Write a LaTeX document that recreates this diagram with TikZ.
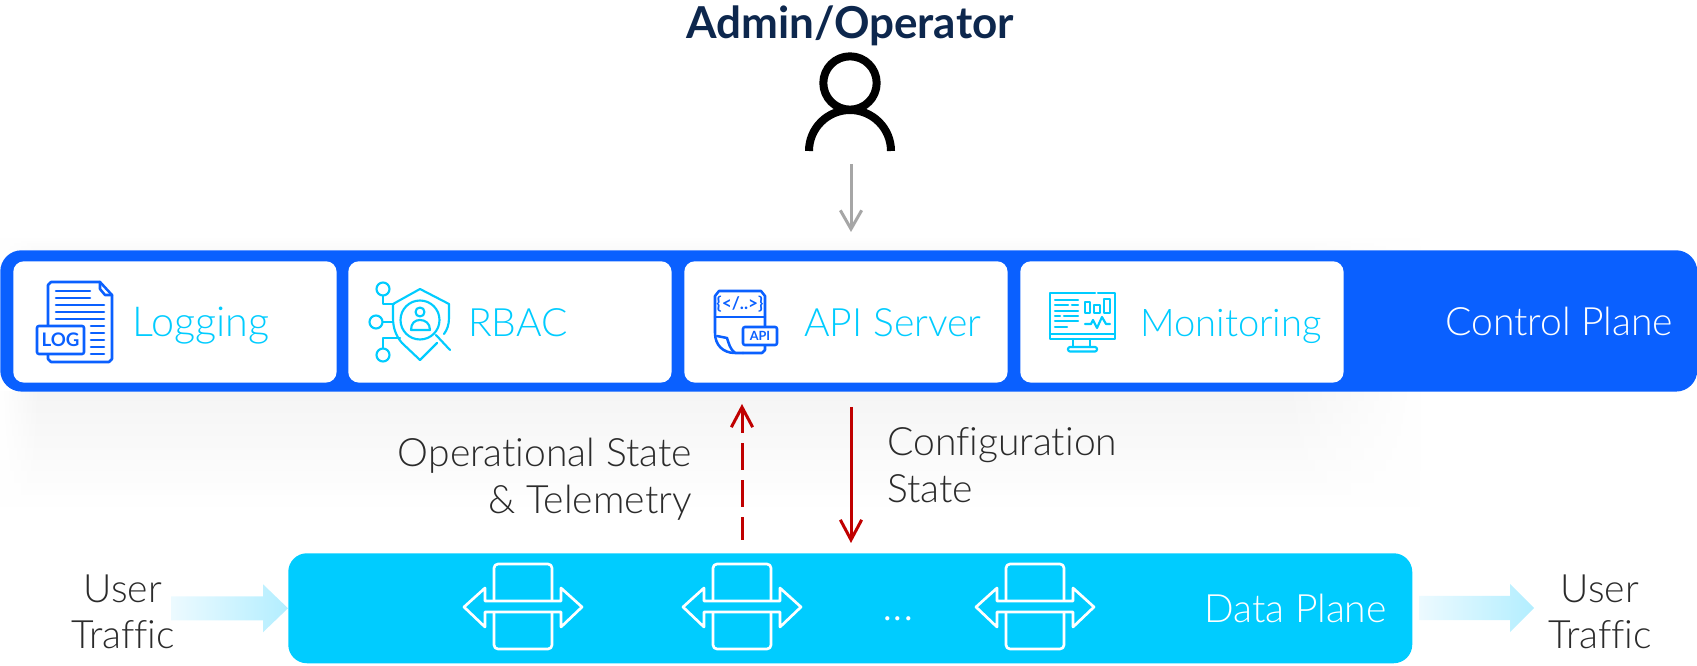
\documentclass[tikz,border=0pt]{standalone}
\usepackage{fontspec}
\usetikzlibrary{arrows.meta,fadings}
\setmainfont{Lato}
\newfontfamily\lightf[Ligatures=NoCommon]{Lato Light}
\definecolor{cpblue}{HTML}{0A60FF}
\definecolor{dpcyan}{HTML}{00CCFF}
\definecolor{navy}{HTML}{0D274D}
\definecolor{ink}{HTML}{2B2B2B}
\definecolor{redarrow}{HTML}{C00000}
\definecolor{greyarrow}{HTML}{A6A6A6}
\definecolor{flowstart}{HTML}{ECFAFF}
\definecolor{flowmid}{HTML}{99E6FF}
\definecolor{flowend}{HTML}{B3EEFF}
\tikzset{
  cardbox/.style={fill=white,rounded corners=8pt,anchor=north west,minimum width=242.5pt,minimum height=91pt,inner sep=0pt},
  lbl/.style={inner sep=0pt,font=\lightf\fontsize{29.3}{34.9}\selectfont},
  cardlbl/.style={lbl,text=dpcyan,anchor=base west},
  darklbl/.style={lbl,text=ink},
  whitelbl/.style={lbl,text=white,anchor=base west},
  blueln/.style={draw=cpblue,line width=1.9pt,line cap=round,line join=round},
  cyanln/.style={draw=dpcyan,line width=1.6pt,line cap=round,line join=round},
  redln/.style={draw=redarrow,line width=2.25pt,-{Straight Barb[length=15pt,width=16pt,line width=2.25pt]}},
  flowarrow/.style={left color=flowstart,middle color=flowmid,right color=flowend},
  iconbox/.style={fill=white,inner sep=0pt,rounded corners=1.5pt,font=\bfseries},
  swicon/.pic={
    \begin{scope}[draw=white,line width=2pt,line join=round]
      \draw[rounded corners=3pt] (-29,-6) -- (-29,-43) -- (29,-43) -- (29,-6);
      \draw[rounded corners=3pt] (-29,5) -- (-29,42) -- (29,42) -- (29,5);
      \draw (-59,0) -- (-38,-19) -- (-38,-6) -- (38,-6) -- (38,-19) -- (59,0) -- (38,20) -- (38,5) -- (-38,5) -- (-38,20) -- cycle;
    \end{scope}
  }
}
\begin{document}
\begin{tikzpicture}[x=0.75pt,y=-0.75pt]
\useasboundingbox (0,0) rectangle (1697,666);
% soft shadow round the control plane
\shade[top color=black!4,bottom color=white] (0,392) rectangle (1420,512);
\shade[top color=white,bottom color=black!2] (0,236) rectangle (1420,250);
\fill[white,path fading=west] (1280,236) rectangle (1420,515);
\fill[white,path fading=east] (0,236) rectangle (40,515);

% control plane
\node[fill=cpblue,rounded corners=16pt,anchor=north west,minimum width=1272.75pt,minimum height=106pt,inner sep=0pt] (control) at (0,250) {};
\node[cardbox] (logcard) at (13,261) {};
\node[cardbox] (rbaccard) at (348,261) {};
\node[cardbox] (apicard) at (684,261) {};
\node[cardbox] (moncard) at (1020,261) {};

\node[cardlbl,font=\lightf\fontsize{31}{31}\selectfont] (logtxt) at (132,337) {Logging};
\node[cardlbl] (rbactxt) at (468,337) {RBAC};
\node[cardlbl] (apitxt) at (804,337) {API Server};
\node[cardlbl,font=\lightf\fontsize{28.6}{31}\selectfont] (montxt) at (1140,337) {Monitoring};
\node[whitelbl] (cptxt) at (1445,336) {Control Plane};

% logging icon
\draw[blueln] (48,326) -- (48,285) -- (51,282) -- (100,282) -- (112,295) -- (112,359) -- (109,362) -- (51,362) -- (48,359) -- (48,354);
\draw[blueln] (100,282) -- (100,289) -- (105,295) -- (112,295);
\foreach \yy in {291,298} \draw[blueln] (56,\yy) -- (90,\yy);
\foreach \yy in {305,312,319} \draw[blueln] (56,\yy) -- (104,\yy);
\foreach \yy in {326,333,340,347,354} \draw[blueln] (91,\yy) -- (104,\yy);
\node[iconbox,draw=cpblue,line width=1.9pt,text=cpblue,minimum width=35.25pt,minimum height=21pt,font=\bfseries\fontsize{14}{14}\selectfont] (logbox) at (60.5,340) {LOG};

% rbac icon
\draw[cyanln] (383,289) circle[radius=6.5];
\draw[cyanln] (376,322) circle[radius=6.5];
\draw[cyanln] (383,355) circle[radius=6.5];
\draw[cyanln] (383,296) -- (383,304) -- (394,304);
\draw[cyanln] (383,322) -- (393,322);
\draw[cyanln] (383,348) -- (383,338) -- (400,338);
\draw[cyanln] (437,343) -- (420,360) -- (402,343) .. controls (396,336) and (393,328) .. (393,318) -- (393,304) -- (420,289) -- (449,304) -- (449,318) .. controls (449,325) and (447,330) .. (444,334);
\draw[cyanln] (420,320) circle[radius=19.5];
\draw[cyanln] (436,335) -- (450,350);
\draw[cyanln] (420,312) circle[radius=4.5];
\draw[cyanln] (411,330) .. controls (411,323) and (415,320) .. (420,320) .. controls (425,320) and (430,323) .. (430,330) -- cycle;

% api icon
\draw[blueln] (743,353) -- (735,353) .. controls (723,353) and (715,345) .. (715,333) -- (715,296) -- (719,291) -- (761,291) -- (765,296) -- (765,327);
\draw[blueln] (765,345) -- (765,350) -- (762,353) -- (743,353);
\draw[blueln] (715,317) -- (765,317);
\draw[blueln] (717,336) -- (727,338) .. controls (729,344) and (730,349) .. (735,353);
\node[inner sep=0pt,text=cpblue,font=\bfseries\fontsize{13}{13}\selectfont] (codetxt) at (740,304) {\{</..>\}};
\node[iconbox,draw=cpblue,line width=1.9pt,text=cpblue,minimum width=25.5pt,minimum height=13.5pt,font=\bfseries\fontsize{9.5}{9.5}\selectfont] (apibox) at (760,336) {API};

% monitoring icon
\draw[cyanln] (1095,293) -- (1050,293) -- (1050,339) -- (1115,339) -- (1115,293) -- (1098,293);
\draw[cyanln] (1050,334) -- (1115,334);
\draw[cyanln] (1073,339) -- (1073,347);
\draw[cyanln] (1090,339) -- (1090,347);
\draw[cyanln,rounded corners=1.5pt] (1068,347) rectangle (1097,351.5);
\draw[cyanln] (1055,300) -- (1078,300);
\draw[cyanln] (1055,305) -- (1068,305) (1072,305) -- (1078,305);
\draw[cyanln] (1055,311) -- (1078,311);
\draw[cyanln] (1055,316) -- (1060,316) (1064,316) -- (1078,316);
\draw[cyanln] (1055,321) -- (1078,321);
\draw[cyanln] (1055,327) -- (1067,327);
\draw[cyanln] (1085,302) rectangle (1090,313);
\draw[cyanln] (1094,305) rectangle (1100,313);
\draw[cyanln] (1104,299) rectangle (1110,313);
\draw[cyanln] (1085,324) -- (1091,324) -- (1093,320) -- (1097,328) -- (1102,317) -- (1106,324) -- (1110,324);

% admin
\node[inner sep=0pt,anchor=base,text=navy,font=\bfseries\fontsize{33}{33}\selectfont] (admintxt) at (850,39) {Admin/Operator};
\node[inner sep=0pt,minimum width=61.5pt,minimum height=76pt,anchor=south] (person) at (850,151) {};
\draw[black,line width=6pt] (809,151) arc[start angle=180,end angle=360,radius=41];
\node[circle,draw=black,fill=white,line width=6pt,minimum size=40pt,inner sep=0pt] (head) at (850,83) {};
\coordinate (adminstart) at (851,164);
\coordinate (adminend) at (851,232);
\draw[draw=greyarrow,line width=2.25pt,-{Straight Barb[length=14pt,width=16pt,line width=2.25pt]}] (adminstart) -- (adminend);

% data plane
\node[fill=dpcyan,rounded corners=14pt,anchor=north west,minimum width=843pt,minimum height=82.5pt,inner sep=0pt] (data) at (288,553) {};
\pic at (523,607) {swicon};
\pic at (742,607) {swicon};
\pic at (1035,607) {swicon};
\node[whitelbl,anchor=base,font=\lightf\fontsize{34}{34}\selectfont] (dots) at (898,620) {...};
\node[whitelbl] (dptxt) at (1204,623) {Data Plane};

% state arrows
\coordinate (opstart) at (742,540);
\coordinate (opend) at (742,404);
\coordinate (cfgstart) at (851,407);
\coordinate (cfgend) at (851,543);
\draw[redln,dash pattern=on 20.25pt off 7.5pt,dash phase=3pt] (opstart) -- (opend);
\draw[redln] (cfgstart) -- (cfgend);
\node[darklbl,align=right,anchor=east] (optxt) at (692,479) {Operational State\\\& Telemetry};
\node[darklbl,align=left,anchor=west] (cfgtxt) at (887,465) {Configuration\\State};

% user traffic
\shade[flowarrow] (data.west) -- ++(-25,-24) -- ++(0,12) -- ++(-92,0) -- ++(0,24) -- ++(92,0) -- ++(0,12) -- cycle;
\coordinate (outtip) at (1534,608);
\shade[flowarrow] (outtip) -- ++(-24,-24) -- ++(0,12) -- ++(-91,0) -- ++(0,24) -- ++(91,0) -- ++(0,12) -- cycle;
\node[darklbl,align=center] (usrl) at (123,612) {User\\Traffic};
\node[darklbl,align=center] (usrr) at (1600,612) {User\\Traffic};
\end{tikzpicture}
\end{document}
